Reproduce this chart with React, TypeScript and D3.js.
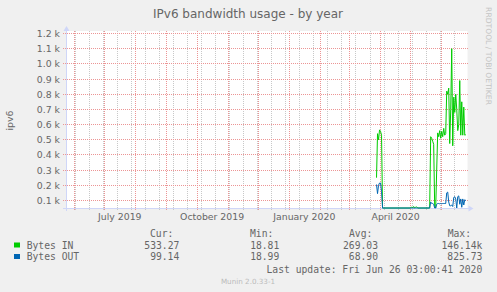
import React from "react";
import * as d3 from "d3";

// ---- data ----
const activeDates = [
  "2020-03-28", "2020-03-29", "2020-03-30", "2020-03-31", "2020-04-01", "2020-04-02", "2020-04-03",
  "2020-05-01", "2020-05-02", "2020-05-03", "2020-05-04", "2020-05-05", "2020-05-06", "2020-05-07", "2020-05-08",
  "2020-05-20", "2020-05-21", "2020-05-22", "2020-05-23", "2020-05-24", "2020-05-25", "2020-05-26",
  "2020-05-27", "2020-05-28", "2020-05-29", "2020-05-30", "2020-05-31",
  "2020-06-01", "2020-06-02", "2020-06-03", "2020-06-04", "2020-06-05", "2020-06-06", "2020-06-07",
  "2020-06-08", "2020-06-09", "2020-06-10", "2020-06-11", "2020-06-12", "2020-06-13", "2020-06-14",
  "2020-06-15", "2020-06-16", "2020-06-17", "2020-06-18", "2020-06-19", "2020-06-20", "2020-06-21",
  "2020-06-22", "2020-06-23", "2020-06-24", "2020-06-25",
];
const bytesIn = [
  250, 540, 500, 565, 555, 530, 25,
  22, 58, 25, 60, 24, 55, 58, 22,
  22, 520, 510, 490, 470, 60, 45, 300, 545, 520, 560, 510,
  555, 520, 575, 530, 540, 820, 800, 840, 475, 700, 1100, 460, 780, 680,
  800, 700, 560, 600, 890, 530, 750, 530, 715, 530, 533,
];
const bytesOut = [
  205, 145, 200, 215, 215, 160, 20,
  20, 20, 20, 20, 20, 20, 20, 20,
  20, 90, 80, 80, 75, 50, 50, 75, 80, 80, 78, 80,
  78, 80, 80, 80, 80, 150, 155, 90, 65, 65, 70, 60, 120, 125,
  110, 50, 125, 130, 75, 110, 55, 110, 70, 105, 99,
];
const yTickValues = [100, 200, 300, 400, 500, 600, 700, 800, 900, 1000, 1100, 1200];
const seriesNames = ["Bytes IN", "Bytes OUT"];
const seriesColors = ["#00cc00", "#0066b3"];
const curVals = ["533.27", "99.14"];
const minVals = ["18.81", "18.99"];
const avgVals = ["269.03", "68.90"];
const maxVals = ["146.14k", "825.73 "];
const lastUpdate = "Last update: Fri Jun 26 03:00:41 2020";
const title = "IPv6 bandwidth usage - by year";
const yLabel = "ipv6";
const version = "Munin 2.0.33-1";
const watermark = "RRDTOOL / TOBI OETIKER";

const W = 497;
const H = 292;
const parse = d3.timeParse("%Y-%m-%d");
const endTime = new Date(2020, 5, 26, 3, 0, 41);
const startTime = d3.timeDay.offset(endTime, -400);

const x = d3.scaleTime().domain([startTime, endTime]).range([65.8, 466.9]);
const y = d3.scaleLinear().domain([47, 1200]).range([208.5, 33.5]).clamp(true);

const points = activeDates.map((d, i) => ({ t: parse(d) as Date, vin: bytesIn[i], vout: bytesOut[i] }));

const lineIn = d3.line<any>().x((d) => x(d.t)).y((d) => Math.min(y(d.vin), 208)).curve(d3.curveLinear);
const lineOut = d3.line<any>().x((d) => x(d.t)).y((d) => Math.min(y(d.vout), 208)).curve(d3.curveLinear);

const months = d3.timeMonth.range(startTime, endTime);
const minorAnchor = new Date(2019, 5, 15, 12, 0, 0);
const minorLines = d3
  .range(-2, 30)
  .map((k) => d3.timeDay.offset(minorAnchor, 14 * k))
  .filter((d) => d > startTime && d < endTime);
const labelMonths = d3.timeMonth.every(3)!.range(startTime, endTime);
const fmtMonth = d3.timeFormat("%B %Y");

const px = (v: number) => Math.floor(v) + 0.5;

const SANS = "'DejaVu Sans', sans-serif";
const MONO = "'DejaVu Sans Mono', monospace";
const FONT_COL = "#666";
const MAJOR = "#ec9595";
const MINOR = "#c8c8c8";

export default function App() {
  const colCur = 179.3;
  const colMin = 279.3;
  const colAvg = 378;
  const colMax = 482.3;
  const rowY = [248.5, 260];
  return (
    <svg
      width={W}
      height={H}
      style={{ position: "absolute", left: 0, top: 0 }}
      xmlns="http://www.w3.org/2000/svg"
    >
      <rect x={0} y={0} width={W} height={H} fill="#f0f0f0" />
      <rect x={66} y={31} width={401.5} height={177.5} fill="#ffffff" />

      {/* grid */}
      <g shapeRendering="crispEdges">
        {minorLines.map((d, i) => (
          <line
            key={"mn" + i}
            x1={px(x(d))}
            x2={px(x(d))}
            y1={31}
            y2={210}
            stroke={MINOR}
            strokeDasharray="1 1"
          />
        ))}
        {months.map((d, i) => (
          <line
            key={"mj" + i}
            x1={px(x(d))}
            x2={px(x(d))}
            y1={31}
            y2={211}
            stroke={MAJOR}
            strokeDasharray="1 1"
          />
        ))}
        {yTickValues.map((v, i) => (
          <line
            key={"hy" + i}
            x1={63}
            x2={468}
            y1={px(y(v))}
            y2={px(y(v))}
            stroke={MAJOR}
            strokeDasharray="1 1"
          />
        ))}
      </g>

      {/* axes */}
      <g shapeRendering="crispEdges">
        <line x1={66.5} x2={66.5} y1={211} y2={30} stroke="#CFD6F8" />
        <line x1={63} x2={469} y1={208.5} y2={208.5} stroke="#CFD6F8" />
      </g>
      <path d="M63.5,31 L69.5,31 L66.5,26 Z" fill="#CFD6F8" />
      <path d="M468.5,205.5 L468.5,211.5 L473.5,208.5 Z" fill="#CFD6F8" />

      {/* data */}
      <path d={lineIn(points) || ""} fill="none" stroke={seriesColors[0]} strokeWidth={1} />
      <path d={lineOut(points) || ""} fill="none" stroke={seriesColors[1]} strokeWidth={1} />

      {/* y tick labels */}
      {yTickValues.map((v, i) => (
        <text
          key={"yl" + i}
          x={60}
          y={px(y(v)) + 3.3}
          textAnchor="end"
          fontFamily={SANS}
          fontSize={9.33}
          fill={FONT_COL}
        >
          {(v / 1000).toFixed(1) + " k"}
        </text>
      ))}

      {/* x labels */}
      {labelMonths.map((d, i) => (
        <text
          key={"xl" + i}
          x={x(d3.timeDay.offset(d, 15))}
          y={220}
          textAnchor="middle"
          fontFamily={SANS}
          fontSize={9.33}
          fill={FONT_COL}
        >
          {fmtMonth(d)}
        </text>
      ))}

      {/* title */}
      <text x={248} y={18.3} textAnchor="middle" fontFamily={SANS} fontSize={12} fill={FONT_COL}>
        {title}
      </text>

      {/* y axis label */}
      <text
        transform="translate(13,120.5) rotate(-90)"
        textAnchor="middle"
        fontFamily={SANS}
        fontSize={9.33}
        fill={FONT_COL}
      >
        {yLabel}
      </text>

      {/* watermark */}
      <text
        transform="translate(485.6,56) rotate(90)"
        textAnchor="middle"
        fontFamily={SANS}
        fontSize={7.6}
        fill="#c4c4c4"
      >
        {watermark}
      </text>

      {/* legend */}
      <g fontFamily={MONO} fontSize={9.7} fill={FONT_COL} style={{ whiteSpace: "pre" }}>
        <text x={150} y={236.7}>Cur:</text>
        <text x={250} y={236.7}>Min:</text>
        <text x={349} y={236.7}>Avg:</text>
        <text x={447.7} y={236.7}>Max:</text>
        {seriesNames.map((n, i) => (
          <g key={"lg" + i}>
            <rect x={14} y={rowY[i] - 6} width={6} height={5} fill={seriesColors[i]} />
            <text x={26.7} y={rowY[i]}>{n}</text>
            <text x={colCur} y={rowY[i]} textAnchor="end">{curVals[i]}</text>
            <text x={colMin} y={rowY[i]} textAnchor="end">{minVals[i]}</text>
            <text x={colAvg} y={rowY[i]} textAnchor="end">{avgVals[i]}</text>
            <text x={colMax} y={rowY[i]} textAnchor="end">{maxVals[i]}</text>
          </g>
        ))}
        <text x={482.3} y={273.3} textAnchor="end">{lastUpdate}</text>
      </g>

      <text x={248} y={284} textAnchor="middle" fontFamily={SANS} fontSize={7.2} fill="#bbbbbb">
        {version}
      </text>
    </svg>
  );
}
